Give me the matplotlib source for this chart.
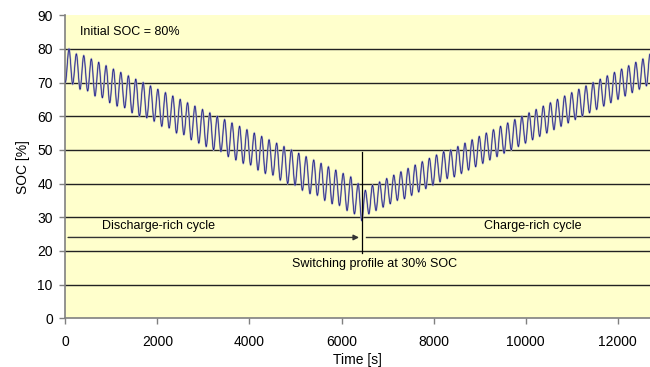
import numpy as np
import matplotlib.pyplot as plt
from matplotlib.path import Path
from matplotlib.patches import PathPatch

# ----- turning points (time in s, SOC in %) -----
# discharge-rich part: troughs and peaks
down_trough_t = [0, 160, 320, 485, 645, 805, 965, 1125, 1290, 1450,
                 1610, 1770, 1930, 2095, 2255, 2415, 2575, 2735, 2900, 3060,
                 3220, 3380, 3540, 3705, 3865, 4025, 4185, 4345, 4510, 4670,
                 4830, 4990, 5150, 5315, 5475, 5635, 5795, 5955, 6120, 6280, 6440]
down_trough_soc = [70, 69.5, 68, 67.5, 66, 65.5, 64, 63, 62.5, 61,
                   60, 59.5, 58.5, 57, 56.5, 55, 54.5, 53, 52, 51,
                   50, 49.5, 48, 47, 46, 45.5, 44, 43, 42.5, 41,
                   40, 39.5, 38, 37, 36.5, 35, 34, 33.5, 32, 31, 29]
down_peak_t = [80, 240, 400, 565, 725, 885, 1045, 1205, 1370, 1530,
               1690, 1850, 2010, 2175, 2335, 2495, 2655, 2815, 2980, 3140,
               3300, 3460, 3620, 3785, 3945, 4105, 4265, 4425, 4590, 4750,
               4910, 5070, 5230, 5395, 5555, 5715, 5875, 6035, 6200, 6360]
down_peak_soc = [80, 78.5, 78, 77, 76, 75, 74, 73, 72, 71,
                 70, 69, 68, 67, 66, 65, 64, 63, 62, 61,
                 60, 59, 58, 57, 56, 55, 54, 53, 52, 51,
                 50, 49, 48, 47, 46, 45, 44, 43, 42, 40]

# charge-rich part: peaks and troughs
up_peak_t = [6517, 6672, 6826, 6981, 7135, 7290, 7445, 7599, 7754, 7908,
             8063, 8218, 8372, 8527, 8681, 8836, 8991, 9145, 9300, 9454,
             9609, 9764, 9918, 10073, 10227, 10382, 10537, 10691, 10846, 11000,
             11155, 11310, 11464, 11619, 11773, 11928, 12083, 12237, 12392, 12546, 12700]
up_peak_soc = [38, 39.5, 40.5, 41.5, 42.5, 43.5, 44.5, 45.5, 46.5, 47.5,
               48.5, 49.5, 50, 51, 52, 53, 54, 55, 56, 57,
               58, 59, 60, 61, 62, 63, 64, 65, 66, 67,
               68, 69, 70, 71, 72, 73, 74, 75, 76, 77, 78.5]
up_trough_t = [6594, 6749, 6903, 7058, 7212, 7367, 7522, 7676, 7831, 7985,
               8140, 8295, 8449, 8604, 8758, 8913, 9068, 9222, 9377, 9531,
               9686, 9841, 9995, 10150, 10304, 10459, 10614, 10768, 10923, 11077,
               11232, 11387, 11541, 11696, 11850, 12005, 12160, 12314, 12469, 12623]
up_trough_soc = [31, 32, 33, 34, 35, 35.5, 36.5, 37.5, 38.5, 39.5,
                 40.5, 41.5, 42, 43, 44, 45, 46, 47, 48, 49,
                 50, 51, 52, 53, 54, 55, 56, 57, 58, 59,
                 60, 61, 62, 63, 64, 65, 66, 67, 68, 69]

switch_time = 6435
x_ticks = [0, 2000, 4000, 6000, 8000, 10000, 12000]
y_ticks = [0, 10, 20, 30, 40, 50, 60, 70, 80, 90]

FONT = 'Liberation Sans'


def smooth_path(t, y, k=0.33):
    # cubic Bezier between turning points, flat tangents at each extreme
    verts = [(t[0], y[0])]
    codes = [Path.MOVETO]
    for i in range(1, len(t)):
        d = (t[i] - t[i - 1]) * k
        verts += [(t[i - 1] + d, y[i - 1]), (t[i] - d, y[i]), (t[i], y[i])]
        codes += [Path.CURVE4] * 3
    return Path(verts, codes)


def main():
    t = np.concatenate([down_trough_t, down_peak_t, up_peak_t, up_trough_t])
    soc = np.concatenate([down_trough_soc, down_peak_soc, up_peak_soc, up_trough_soc])
    order = np.argsort(t)
    t, soc = t[order], soc[order]

    plt.rcParams['font.family'] = FONT
    fig = plt.figure(figsize=(6.5, 3.67), dpi=100)
    ax = fig.add_axes([0.1005, 0.1327, 0.8995, 0.826])
    ax.set_facecolor('#FFFFCC')

    for y in y_ticks[1:-1]:
        ax.axhline(y, color='#222222', lw=1.0, zorder=1)

    path = smooth_path(t, soc)
    ax.add_patch(PathPatch(path, facecolor='none', edgecolor='#b0b0bf', lw=1.3, zorder=2))
    ax.add_patch(PathPatch(path, facecolor='none', edgecolor='#20208a', lw=0.55, zorder=3))

    # annotations
    ax.plot([switch_time, switch_time], [19.5, 49.5], color='black', lw=0.9, zorder=4)
    ax.annotate('', xy=(6380, 24), xytext=(60, 24),
                arrowprops=dict(arrowstyle='-|>', color='#333333', lw=1.0,
                                mutation_scale=8, shrinkA=0, shrinkB=0),
                zorder=4)
    ax.plot([6540, 12700], [24, 24], color='#333333', lw=1.0, zorder=4)
    ax.text(790, 27.5, 'Discharge-rich cycle', fontsize=9, va='center', ha='left')
    ax.text(9100, 27.5, 'Charge-rich cycle', fontsize=9, va='center', ha='left')
    ax.text(4920, 16.2, 'Switching profile at 30% SOC', fontsize=9, va='center', ha='left')
    ax.text(320, 85, 'Initial SOC = 80%', fontsize=9, va='center', ha='left')

    ax.set_xlim(0, 12700)
    ax.set_ylim(0, 90)
    ax.set_xticks(x_ticks)
    ax.set_yticks(y_ticks)
    ax.tick_params(axis='both', labelsize=10, length=4, width=1, color='#808080',
                   direction='out')
    ax.tick_params(axis='x', pad=8)
    ax.tick_params(axis='y', pad=5)
    for side in ['top', 'right']:
        ax.spines[side].set_visible(False)
    for side in ['left', 'bottom']:
        ax.spines[side].set_color('#808080')
        ax.spines[side].set_linewidth(1.2)

    ax.set_xlabel('Time [s]', fontsize=10, labelpad=3)
    ax.set_ylabel('SOC [%]', fontsize=10, labelpad=5)

    fig.savefig('out.png', dpi=100)


if __name__ == '__main__':
    main()
